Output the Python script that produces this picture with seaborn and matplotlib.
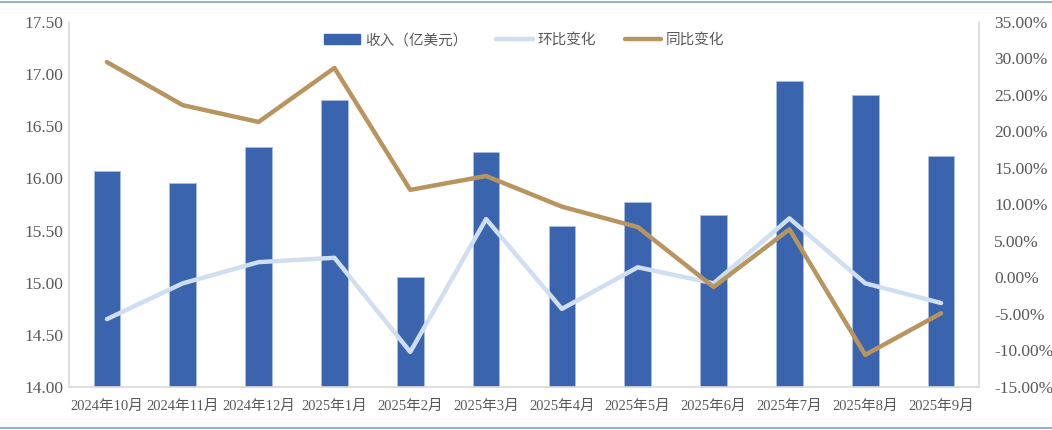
import numpy as np
import pandas as pd
import matplotlib
matplotlib.use("Agg")
import matplotlib.pyplot as plt
import seaborn as sns
from matplotlib.lines import Line2D
from matplotlib.ticker import FuncFormatter

months = ["2024年10月", "2024年11月", "2024年12月", "2025年1月", "2025年2月", "2025年3月",
          "2025年4月", "2025年5月", "2025年6月", "2025年7月", "2025年8月", "2025年9月"]
revenue = [16.07, 15.96, 16.30, 16.75, 15.05, 16.25, 15.54, 15.77, 15.65, 16.93, 16.80, 16.21]
mom = [-5.7, -0.8, 2.1, 2.7, -10.2, 8.0, -4.3, 1.4, -0.8, 8.1, -0.8, -3.5]
yoy = [29.5, 23.6, 21.3, 28.7, 12.0, 13.9, 9.7, 6.9, -1.3, 6.6, -10.6, -4.9]

df = pd.DataFrame({"month": months, "revenue": revenue, "mom": mom, "yoy": yoy})

bar_color = "#3A64AE"
mom_color = "#D0DEF2"
yoy_color = "#B8955F"
text_color = "#595959"
spine_color = "#D9D9D9"

sns.set_style("white")
plt.rcParams["font.family"] = ["Liberation Serif", "Noto Sans CJK SC", "DejaVu Sans"]

fig = plt.figure(figsize=(10.52, 4.30), dpi=100)
ax = fig.add_axes([0.0656, 0.10, 0.865, 0.849])

sns.barplot(data=df, x="month", y="revenue", color=bar_color, width=0.35,
            saturation=1, ax=ax, edgecolor="#A9BEE3", linewidth=0.6)
ax.set_ylim(14.0, 17.5)
ax.set_yticks(np.arange(14.0, 17.51, 0.5))
ax.yaxis.set_major_formatter(FuncFormatter(lambda v, p: f"{v:.2f}"))
ax.set_xlim(-0.5, len(months) - 0.5)
ax.set_xlabel("")
ax.set_ylabel("")

ax2 = ax.twinx()
x = np.arange(len(months))
sns.lineplot(x=x, y=df["mom"], color=mom_color, linewidth=3.2, ax=ax2)
sns.lineplot(x=x, y=df["yoy"], color=yoy_color, linewidth=3.2, ax=ax2)
ax2.set_ylim(-15, 35)
ax2.set_yticks(np.arange(-15, 35.1, 5))
ax2.yaxis.set_major_formatter(FuncFormatter(lambda v, p: f"{v:.2f}%"))
ax2.set_ylabel("")

for a in (ax, ax2):
    for s in a.spines.values():
        s.set_visible(False)
    a.tick_params(length=0, colors=text_color, labelsize=12.5)
ax.spines["left"].set_visible(True)
ax.spines["bottom"].set_visible(True)
ax.spines["left"].set_color(spine_color)
ax.spines["bottom"].set_color(spine_color)
ax.spines["left"].set_linewidth(1.2)
ax.spines["bottom"].set_linewidth(1.2)
ax2.spines["right"].set_visible(True)
ax2.spines["right"].set_color(spine_color)
ax2.spines["right"].set_linewidth(1.2)
ax.tick_params(axis="x", pad=9, labelsize=10.5)
ax.tick_params(axis="y", pad=4)
ax2.tick_params(axis="y", pad=11)

handles = [
    plt.Rectangle((0, 0), 1, 1, color=bar_color),
    Line2D([0], [0], color=mom_color, linewidth=3.2),
    Line2D([0], [0], color=yoy_color, linewidth=3.2),
]
leg = ax2.legend(handles, ["收入（亿美元）", "环比变化", "同比变化"], ncol=3, frameon=False,
                 loc="upper center", bbox_to_anchor=(0.5, 1.005), fontsize=10.5,
                 handlelength=2.5, handletextpad=0.3, columnspacing=2.0)
for t in leg.get_texts():
    t.set_color(text_color)

fig.add_artist(Line2D([0, 1], [0.995, 0.995], color="#7F9FD6", linewidth=1.2,
                      transform=fig.transFigure))
fig.add_artist(Line2D([0, 1], [0.005, 0.005], color="#7F9FD6", linewidth=1.2,
                      transform=fig.transFigure))

fig.savefig("out.png", dpi=100)
